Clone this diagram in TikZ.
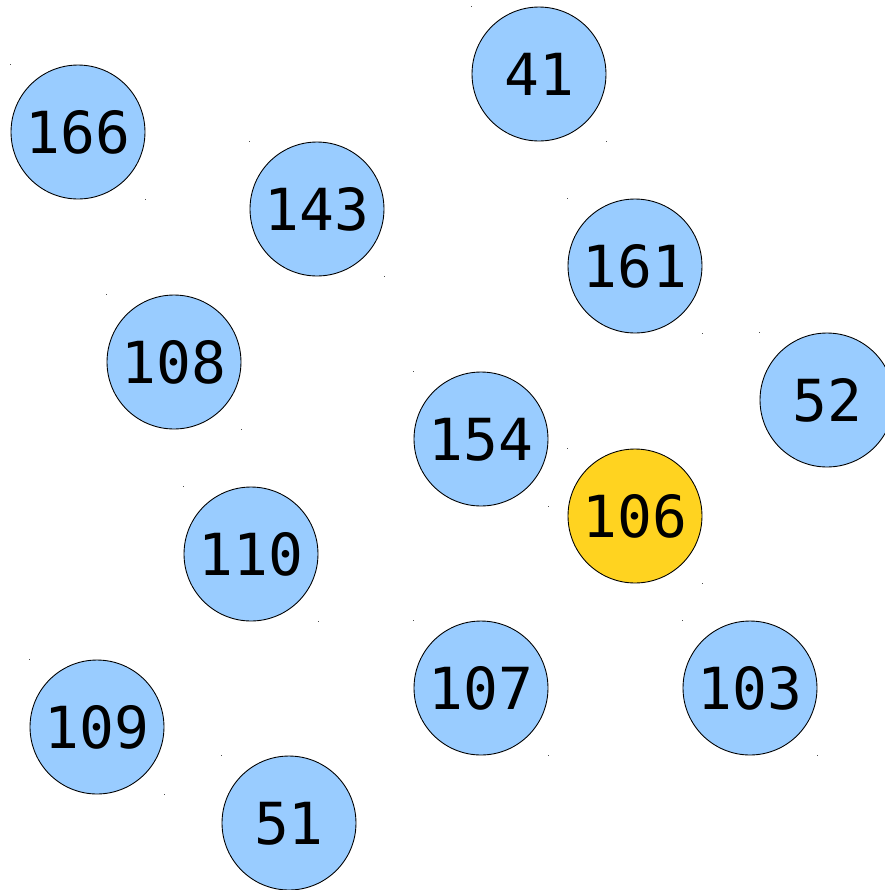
\documentclass[tikz,border=0pt]{standalone}
\usepackage{fontspec}
\newfontfamily\monofont{DejaVu Sans Mono}
\definecolor{nodeblue}{RGB}{153,204,255}
\definecolor{nodegold}{RGB}{255,211,32}
\usepackage{tikz}
\tikzset{
  vert/.style={circle, draw=black, line width=0.5pt, fill=nodeblue, minimum size=2.68cm, inner sep=0pt, text depth=0pt, font=\monofont\fontsize{33}{33}\selectfont},
  mark dot/.style={fill=black!70, minimum size=0.025cm, inner sep=0pt}
}

\begin{document}
\begin{tikzpicture}[x=0.02cm, y=-0.02cm]
  \useasboundingbox (0,0) rectangle (885,890);
  % vertices
  \foreach \name/\px/\py in {41/539/74, 166/78/132, 143/317/209, 161/635/266, 108/174/362, 52/827/400, 154/481/439, 110/251/554, 107/481/688, 103/750/688, 109/97/727, 51/289/823}{
    \node[vert] (v\name) at (\px,\py) {\name};
  }
  \node[vert, fill=nodegold] (v106) at (635,516) {106};
  % corner marks
  \foreach \name in {41,166,143,161,108,52,154,106,110,107,103,109,51}{
    \node[mark dot] at (v\name.west |- v\name.north) {};
    \node[mark dot] at (v\name.east |- v\name.south) {};
  }
\end{tikzpicture}
\end{document}
